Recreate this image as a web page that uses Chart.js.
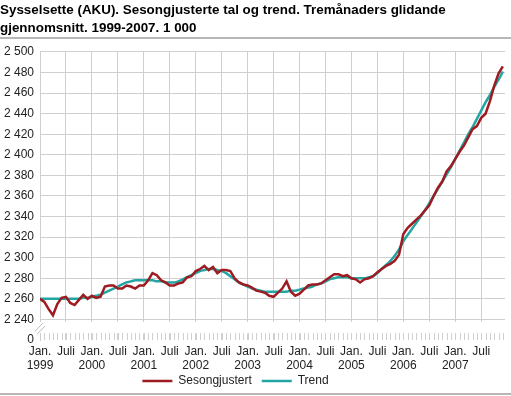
<!DOCTYPE html>
<html>
<head>
<meta charset="utf-8">
<script src="https://cdn.jsdelivr.net/npm/chart.js@4.4.1/dist/chart.umd.min.js"></script>
<style>
  html, body { margin: 0; padding: 0; background: #fff; }
  #wrap { width: 511px; height: 396px; }
</style>
</head>
<body>
<div id="wrap"><canvas id="sysselChart" width="511" height="396"></canvas></div>
<script>
// Data: monthly values, Jan 1999 - Dec 2007 (1 000 persons)
var years = [1999, 2000, 2001, 2002, 2003, 2004, 2005, 2006, 2007];
var sesongjustert = [
  2260, 2257, 2250, 2244, 2255, 2261, 2262, 2256, 2254, 2259, 2264, 2260,
  2263, 2261, 2262, 2272, 2273, 2273, 2270, 2270, 2273, 2272, 2270, 2273,
  2273, 2278, 2285, 2283, 2278, 2276, 2273, 2273, 2275, 2276, 2281, 2282,
  2287, 2289, 2292, 2288, 2291, 2285, 2288, 2288, 2287, 2280, 2276, 2274,
  2273, 2271, 2268, 2267, 2266, 2263, 2262, 2266, 2270, 2277, 2267, 2263,
  2265, 2269, 2273, 2274, 2274, 2275, 2278, 2281, 2284, 2284, 2282, 2283,
  2280, 2279, 2276, 2279, 2280, 2282, 2286, 2289, 2292, 2294, 2297, 2303,
  2323, 2329, 2333, 2337, 2341, 2346, 2351, 2360, 2368, 2374, 2384, 2389,
  2396, 2403, 2409, 2417, 2425, 2428, 2436, 2440, 2452, 2467, 2479, 2486
];
var trend = [
  2260, 2260, 2260, 2260, 2260, 2260, 2260, 2260, 2260, 2260, 2261, 2261,
  2262, 2263, 2264, 2266, 2268, 2270, 2272, 2274, 2276, 2277, 2278, 2278,
  2278, 2278, 2278, 2277, 2277, 2276, 2276, 2276, 2277, 2279, 2281, 2283,
  2285, 2287, 2288, 2289, 2289, 2288, 2287, 2285, 2282, 2279, 2276, 2274,
  2272, 2270, 2269, 2268, 2267, 2267, 2267, 2267, 2267, 2267, 2268, 2268,
  2269, 2270, 2271, 2272, 2274, 2275, 2277, 2279, 2280, 2281, 2281, 2281,
  2280, 2280, 2280, 2280, 2281, 2282, 2285, 2289, 2293, 2297, 2302, 2308,
  2316, 2322, 2328, 2334, 2340, 2346, 2353, 2360, 2367, 2374, 2381, 2388,
  2396, 2404, 2412, 2420, 2427, 2435, 2443, 2451, 2458, 2466, 2473, 2481
];
var yTicks = [2240, 2260, 2280, 2300, 2320, 2340, 2360, 2380, 2400, 2420, 2440, 2460, 2480, 2500];
var yBreakValue = 2220; // shown as "0"

var gridColor = '#cfcfcf';
var textColor = '#222';

function toPoints(arr) {
  return arr.map(function (v, i) { return { x: i, y: v }; });
}

function fmt(v) {
  return v.toString().replace(/\B(?=(\d{3})+(?!\d))/g, ' ');
}

// Broken axis, monthly tick marks, frame lines
var axisDecor = {
  id: 'axisDecor',
  afterLayout: function (chart) {
    // legend sits a bit left of centre and higher in the original
    chart.legend.left -= 17;
    chart.legend.right -= 17;
    chart.legend.top -= 5;
    chart.legend.bottom -= 5;
  },
  beforeDatasetsDraw: function (chart) {
    var ctx = chart.ctx;
    var area = chart.chartArea;
    var y = chart.scales.y;
    var x = chart.scales.x;
    var bandTop = y.getPixelForValue(2237.5);
    var bandBottom = y.getPixelForValue(2226.5);
    ctx.save();
    ctx.fillStyle = '#fff';
    ctx.fillRect(area.left - 2, bandTop, area.right - area.left + 4, bandBottom - bandTop);
    ctx.strokeStyle = gridColor;
    ctx.lineWidth = 1;
    ctx.beginPath();
    for (var i = 0; i < sesongjustert.length; i++) {
      var px = Math.round(x.getPixelForValue(i)) + 0.5;
      ctx.moveTo(px, area.bottom - 7);
      ctx.lineTo(px, area.bottom);
    }
    ctx.stroke();
    // break marks
    ctx.strokeStyle = '#bbb';
    ctx.beginPath();
    ctx.moveTo(area.left - 5, bandBottom - 2);
    ctx.lineTo(area.left + 3, bandTop + 1);
    ctx.moveTo(area.left - 3, bandBottom + 1);
    ctx.lineTo(area.left + 5, bandTop + 4);
    ctx.stroke();
    ctx.restore();
  },
  afterDraw: function (chart) {
    var ctx = chart.ctx;
    ctx.save();
    ctx.strokeStyle = '#a0a0a0';
    ctx.lineWidth = 1.5;
    ctx.beginPath();
    ctx.moveTo(0, 38);
    ctx.lineTo(chart.width, 38);
    ctx.moveTo(0, 394);
    ctx.lineTo(chart.width, 394);
    ctx.stroke();
    ctx.restore();
  }
};

var ctx = document.getElementById('sysselChart');
var myChart = new Chart(ctx, {
  type: 'line',
  data: {
    datasets: [{
      label: 'Sesongjustert',
      data: toPoints(sesongjustert),
      borderColor: '#9e1b22',
      backgroundColor: '#9e1b22',
      borderWidth: 2.5,
      pointRadius: 0,
      tension: 0
    }, {
      label: 'Trend',
      data: toPoints(trend),
      borderColor: '#22a5a3',
      backgroundColor: '#22a5a3',
      borderWidth: 2.5,
      pointRadius: 0,
      cubicInterpolationMode: 'monotone'
    }]
  },
  options: {
    responsive: false,
    animation: false,
    layout: { padding: { left: 0, right: 6, top: 0, bottom: 0 } },
    font: { family: "'Liberation Sans', Arial, sans-serif", size: 12 },
    scales: {
      x: {
        type: 'linear',
        min: 0,
        max: 107.5,
        afterBuildTicks: function (scale) {
          scale.ticks = sesongjustert.map(function (v, i) { return { value: i }; });
        },
        afterFit: function (scale) { scale.height = 30; },
        grid: {
          drawTicks: false,
          color: function (c) {
            return (c.tick && c.tick.value % 6 === 0) ? gridColor : 'rgba(0,0,0,0)';
          }
        },
        border: { display: false },
        ticks: {
          autoSkip: false,
          maxRotation: 0,
          minRotation: 0,
          padding: 4,
          color: textColor,
          font: { size: 12, lineHeight: 1.2 },
          callback: function (value) {
            if (value % 12 === 0) return ['Jan.', String(years[value / 12])];
            if (value % 12 === 6) return 'Juli';
            return '';
          }
        }
      },
      y: {
        min: yBreakValue,
        max: 2500,
        afterBuildTicks: function (scale) {
          scale.ticks = [{ value: yBreakValue }].concat(yTicks.map(function (v) { return { value: v }; }));
        },
        afterFit: function (scale) { scale.width = 40; },
        grid: {
          drawTicks: false,
          color: function (c) {
            return (c.tick && c.tick.value === yBreakValue) ? 'rgba(0,0,0,0)' : gridColor;
          }
        },
        border: { display: true, color: gridColor },
        ticks: {
          padding: 6,
          color: textColor,
          font: { size: 12 },
          callback: function (value) {
            return value === yBreakValue ? '0' : fmt(value);
          }
        }
      }
    },
    plugins: {
      title: {
        display: true,
        align: 'start',
        text: ['Sysselsette (AKU). Sesongjusterte tal og trend. Tremånaders glidande', 'gjennomsnitt. 1999-2007. 1 000'],
        color: '#000',
        font: { size: 13.4, weight: 'bold', lineHeight: 1.35 },
        padding: { top: 1.5, bottom: 14.3 }
      },
      legend: {
        position: 'bottom',
        maxHeight: 26,
        labels: {
          color: textColor,
          font: { size: 12 },
          usePointStyle: true,
          pointStyle: 'line',
          pointStyleWidth: 30,
          boxHeight: 12,
          padding: 10
        }
      },
      tooltip: { enabled: false }
    }
  },
  plugins: [axisDecor]
});
</script>
</body>
</html>
